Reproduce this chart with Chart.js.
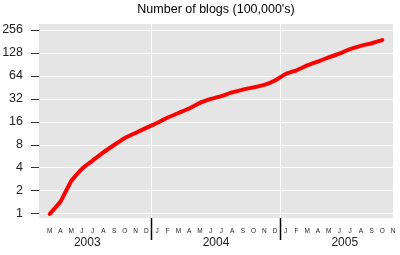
<!DOCTYPE html>
<html><head><meta charset="utf-8">
<script src="https://cdn.jsdelivr.net/npm/chart.js@4/dist/chart.umd.min.js"></script>
<style>html,body{margin:0;padding:0;background:#fff;}canvas{display:block;}</style>
</head><body>
<canvas id="c" width="400" height="255"></canvas>
<script>
const chartTitle = "Number of blogs (100,000's)";
const firstMonth = 2; // March 2003 (Jan 2003 = 0)
const monthLetters = ['M','A','M','J','J','A','S','O','N','D',
  'J','F','M','A','M','J','J','A','S','O','N','D',
  'J','F','M','A','M','J','J','A','S','O','N'];
const years = ['2003','2004','2005'];
const blogs = [1.0,1.45,2.7,3.9,5.0,6.4,8.0,9.9,11.5,13.4,
  15.5,18.3,21,24,28.5,32,35,39,42.5,45.5,49,56,
  68,76,88,99,112,126,144,159,172,189];
const yTicks = [1,2,4,8,16,32,64,128,256];

const points = blogs.map((v,i)=>({x:firstMonth+i+0.5, y:v}));

const xTickList = [];
monthLetters.forEach((m,i)=>xTickList.push({value:firstMonth+i+0.5, kind:'month', text:m}));
years.forEach((y,i)=>{
  xTickList.push({value:i*12+6, kind:'year', text:y});
  if(i>0) xTickList.push({value:i*12, kind:'sep', text:''});
});
xTickList.sort((a,b)=>a.value-b.value);

const bgPlugin = {id:'bg', beforeDraw(chart){
  const {ctx, chartArea:a} = chart;
  ctx.save(); ctx.fillStyle='#e5e5e5';
  ctx.fillRect(a.left,a.top,a.right-a.left,a.bottom-a.top); ctx.restore();
}};

new Chart(document.getElementById('c'), {
  type:'line',
  data:{datasets:[{data:points, borderColor:'#ff0000', borderWidth:4, pointRadius:0,
    tension:0.12, borderCapStyle:'round', borderJoinStyle:'round', fill:false}]},
  options:{
    responsive:false, animation:false, devicePixelRatio:1,
    layout:{padding:{left:0,right:7,top:0,bottom:0}},
    plugins:{
      legend:{display:false}, tooltip:{enabled:false},
      title:{display:true, text:chartTitle, fullSize:false, color:'#000',
        font:{family:'"Liberation Sans", Arial, sans-serif', size:12.5, weight:'normal'},
        padding:{top:2.5,bottom:6.5}}
    },
    scales:{
      x:{type:'linear', min:1.5, max:34.5, bounds:'data',
        afterBuildTicks:s=>{s.ticks = xTickList.map(t=>({...t}));},
        afterFit:s=>{s.height=37;},
        border:{display:false},
        grid:{drawTicks:true, tickLength:22, lineWidth:1, tickWidth:1.5,
          color:c=>(c.tick&&c.tick.kind==='sep')?'#ffffff':'rgba(0,0,0,0)',
          tickColor:c=>(c.tick&&c.tick.kind==='sep')?'#000000':'rgba(0,0,0,0)'},
        ticks:{autoSkip:false, maxRotation:0, minRotation:0, padding:-22, color:'#222',
          callback:function(v,i,ticks){const t=ticks[i]; return t.kind==='year'?['',t.text]:t.text;},
          font:c=>(c.tick&&c.tick.kind==='year')
            ?{family:'"Liberation Sans", Arial, sans-serif', size:12, lineHeight:'16.7px'}
            :{family:'"Liberation Sans", Arial, sans-serif', size:6.5, lineHeight:'27px'}}
      },
      y:{type:'logarithmic', min:0.886, max:307, bounds:'data',
        afterBuildTicks:s=>{s.ticks = yTicks.map(v=>({value:v}));},
        afterFit:s=>{s.width=39;},
        border:{display:false},
        grid:{color:'#ffffff', lineWidth:1, tickColor:'#333', tickLength:8, tickWidth:1},
        ticks:{padding:8, color:'#222', callback:v=>String(v),
          font:{family:'"Liberation Sans", Arial, sans-serif', size:12.5}}
      }
    }
  },
  plugins:[bgPlugin]
});
</script>
</body></html>
